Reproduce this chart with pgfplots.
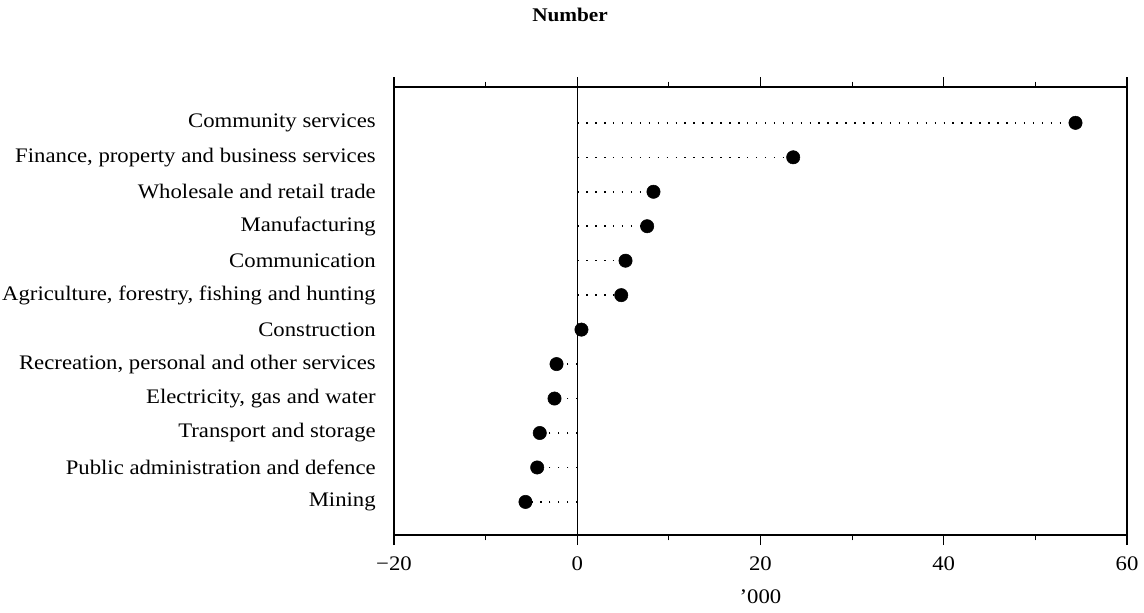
\documentclass[border=0pt]{standalone}
\usepackage{fontspec}
\setmainfont{Liberation Serif}[FakeStretch=1.1]
\usepackage{pgfplots}
\pgfplotsset{compat=1.18}
\begin{document}
\fontsize{15.5}{18}\selectfont
\begin{tikzpicture}
\useasboundingbox (-295.5pt,-57.75pt) rectangle (562.5pt,401.25pt);
\begin{axis}[
  at={(0,0)}, anchor=south west,
  scale only axis, width=549.75pt, height=336pt,
  xmin=-20, xmax=60, ymin=0.04, ymax=13.04,
  axis line style={line width=0.8pt},
  xtick={-20,0,20,40,60},
  xticklabels={−20,0,20,40,60},
  minor xtick={-10,10,30,50},
  tick align=outside,
  major tick length=7.5pt, minor tick length=4pt,
  every tick/.style={line width=0.8pt, black},
  ytick={1,...,12},
  yticklabels={Mining,Public administration and defence,Transport and storage,{Electricity, gas and water},{Recreation, personal and other services},Construction,{Agriculture, forestry, fishing and hunting},Communication,Manufacturing,Wholesale and retail trade,{Finance, property and business services},Community services},
  ytick style={draw=none},
  yticklabel style={font=\fontsize{15.5}{18}\selectfont, anchor=east, inner sep=0pt, xshift=-6pt},
  xticklabel style={font=\fontsize{15.5}{18}\selectfont, yshift=-3.75pt},
  xlabel={'000},
  xlabel style={font=\fontsize{15.5}{18}\selectfont, at={(rel axis cs:0.5,0)}, anchor=center, yshift=-46.5pt},
  title={Number},
  title style={font=\bfseries\fontsize{14.5}{17}\selectfont, at={(rel axis cs:0.2402,1)}, anchor=center, yshift=48pt},
  unbounded coords=jump,
]
\addplot[black, line width=0.8pt] coordinates {(0,0.04) (0,13.04)};
\addplot[black, line width=1.1pt, dash pattern=on 1.1pt off 5.6pt] coordinates {
(0,12) (54.38,12) (nan,nan)
(0,11) (23.57,11) (nan,nan)
(0,10) (8.32,10) (nan,nan)
(0,9) (7.63,9) (nan,nan)
(0,8) (5.27,8) (nan,nan)
(0,7) (4.80,7) (nan,nan)
(0,6) (0.46,6) (nan,nan)
(0,5) (-2.26,5) (nan,nan)
(0,4) (-2.48,4) (nan,nan)
(0,3) (-4.09,3) (nan,nan)
(0,2) (-4.37,2) (nan,nan)
(0,1) (-5.65,1)};
\addplot[only marks, mark=*, mark size=5pt, black] coordinates {
(54.38,12) (23.57,11) (8.32,10) (7.63,9) (5.27,8) (4.80,7) (0.46,6) (-2.26,5) (-2.48,4) (-4.09,3) (-4.37,2) (-5.65,1)};
\end{axis}
\end{tikzpicture}
\end{document}
